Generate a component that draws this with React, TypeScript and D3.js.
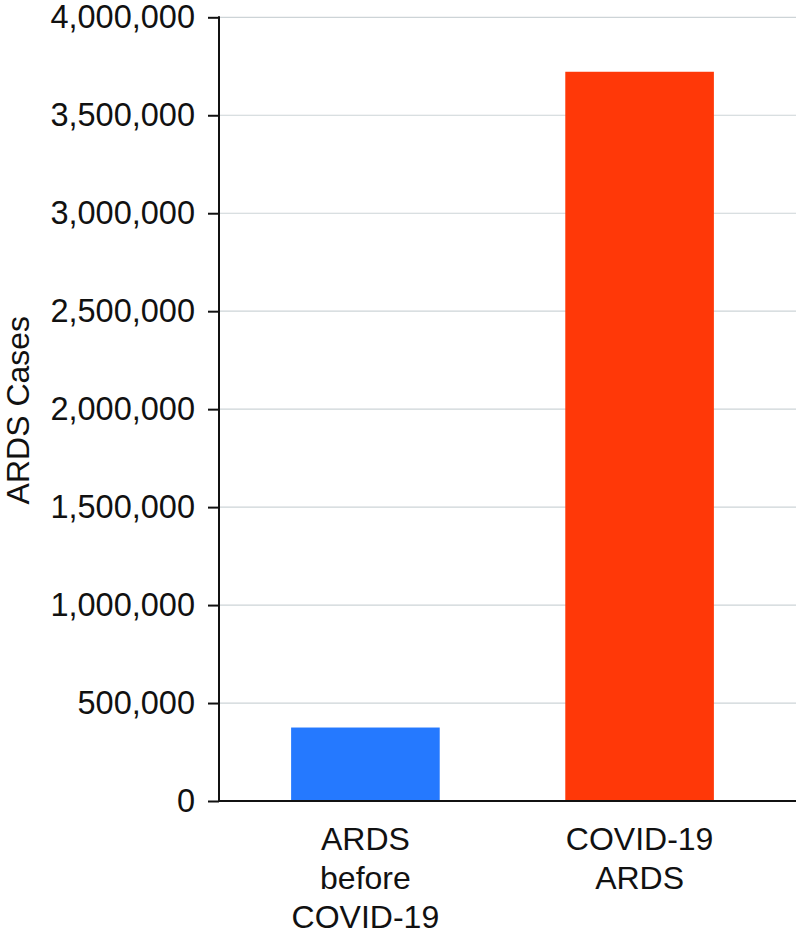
import * as React from 'react';
import * as d3 from 'd3';

// chart data
const categories = ['ARDS\nbefore\nCOVID-19', 'COVID-19\nARDS'];
const cases = [375000, 3722000];
const barColors = ['#2579ff', '#ff3808'];
const yTicks = [0, 500000, 1000000, 1500000, 2000000, 2500000, 3000000, 3500000, 4000000];
const yTitle = 'ARDS Cases';

const width = 796;
const height = 935;
const margin = { top: 17.3, bottom: 134, left: 219, right: 0 };
const font = 'Helvetica, Arial, "Liberation Sans", sans-serif';

export default function App() {
  const ref = React.useRef<SVGSVGElement>(null);

  React.useEffect(() => {
    const svg = d3.select(ref.current);
    svg.selectAll('*').remove();

    const y0 = height - margin.bottom;

    const x = d3.scaleBand<string>()
      .domain(categories)
      .range([margin.left, 786])
      .paddingInner(0.458)
      .paddingOuter(0.263);

    const y = d3.scaleLinear()
      .domain([0, 4000000])
      .range([y0, margin.top]);

    // gridlines
    svg.append('g')
      .selectAll('line')
      .data(yTicks.slice(1))
      .enter().append('line')
      .attr('x1', margin.left)
      .attr('x2', width)
      .attr('y1', d => y(d))
      .attr('y2', d => y(d))
      .attr('stroke', '#cdd4d7')
      .attr('stroke-width', 1.2);

    // bars
    svg.append('g')
      .selectAll('rect')
      .data(categories)
      .enter().append('rect')
      .attr('x', d => x(d)!)
      .attr('width', x.bandwidth())
      .attr('y', (d, i) => y(cases[i]))
      .attr('height', (d, i) => y0 - y(cases[i]))
      .attr('fill', (d, i) => barColors[i]);

    // y axis
    const yAxis = d3.axisLeft(y)
      .tickValues(yTicks)
      .tickSize(11)
      .tickPadding(13)
      .tickFormat(d3.format(','));

    const gy = svg.append('g')
      .attr('transform', `translate(${margin.left},0)`)
      .call(yAxis);
    gy.select('.domain').remove();
    gy.selectAll('.tick line').attr('stroke', '#111').attr('stroke-width', 2);
    gy.selectAll('.tick text')
      .attr('fill', '#111')
      .style('font-family', font)
      .style('font-size', '32.5px');

    svg.append('line')
      .attr('x1', margin.left)
      .attr('x2', margin.left)
      .attr('y1', margin.top - 1)
      .attr('y2', y0 + 1)
      .attr('stroke', '#111')
      .attr('stroke-width', 2);

    // x axis baseline
    svg.append('line')
      .attr('x1', margin.left)
      .attr('x2', width)
      .attr('y1', y0)
      .attr('y2', y0)
      .attr('stroke', '#111')
      .attr('stroke-width', 2);

    // category labels
    svg.append('g')
      .selectAll('text')
      .data(categories)
      .enter().append('text')
      .attr('x', d => x(d)! + x.bandwidth() / 2)
      .attr('y', 850)
      .attr('text-anchor', 'middle')
      .attr('fill', '#111')
      .style('font-family', font)
      .style('font-size', '32px')
      .selectAll('tspan')
      .data(d => d.split('\n'))
      .enter().append('tspan')
      .attr('x', function () {
        return (this.parentNode as SVGTextElement).getAttribute('x');
      })
      .attr('dy', (d, i) => (i === 0 ? 0 : 39))
      .text(d => d);

    // y axis title
    svg.append('text')
      .attr('transform', `translate(29,${(margin.top + y0) / 2 + 1}) rotate(-90)`)
      .attr('text-anchor', 'middle')
      .attr('fill', '#111')
      .style('font-family', font)
      .style('font-size', '32px')
      .text(yTitle);
  }, []);

  return (
    <svg
      ref={ref}
      width={width}
      height={height}
      style={{ position: 'absolute', left: 0, top: 0, background: '#fff' }}
    />
  );
}
